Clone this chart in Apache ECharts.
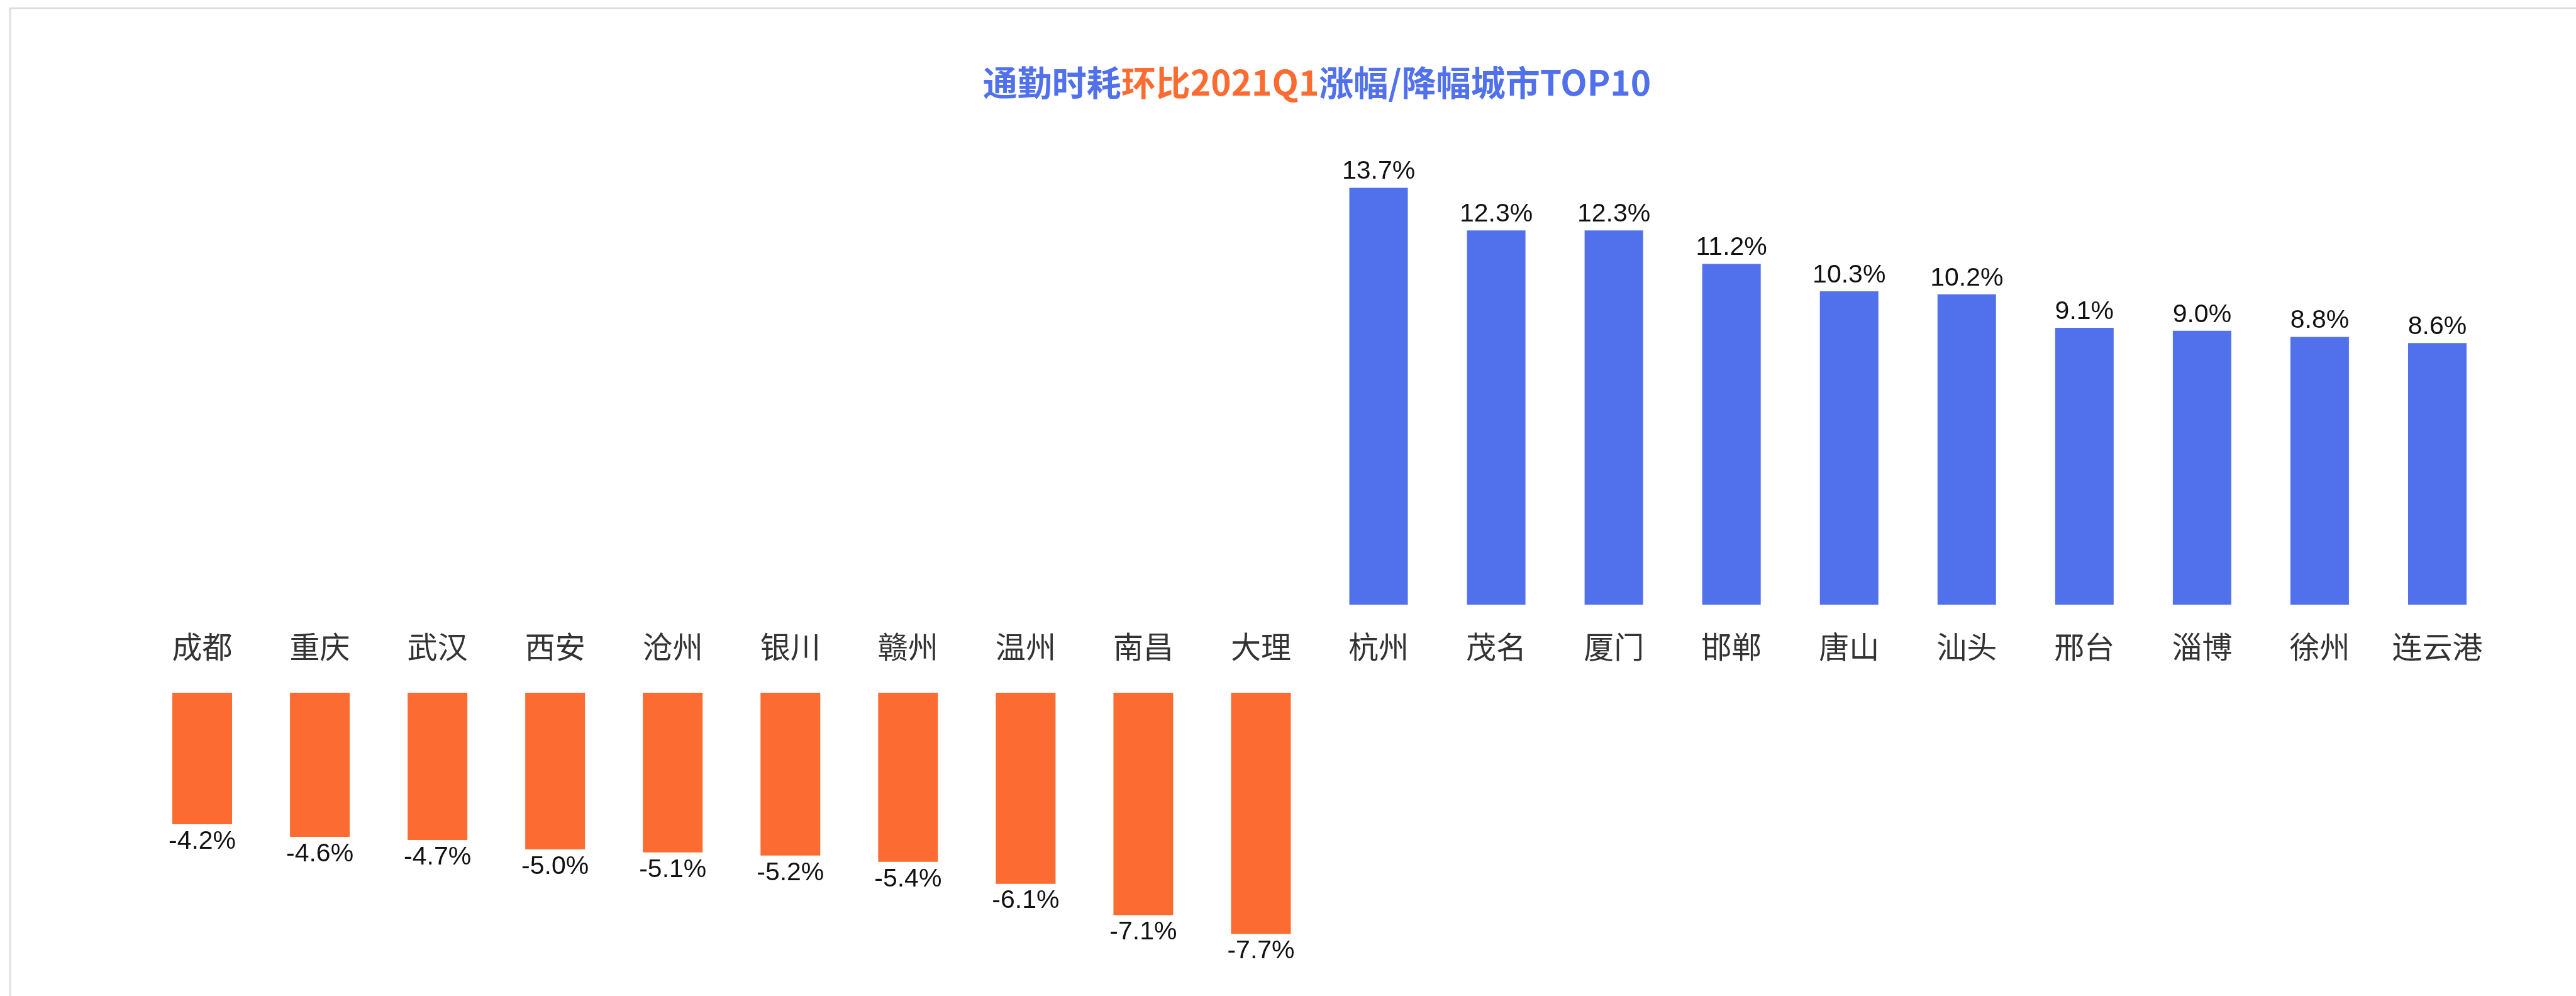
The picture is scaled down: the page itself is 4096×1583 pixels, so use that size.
<!DOCTYPE html>
<html>
<head>
<meta charset="utf-8">
<title>通勤时耗环比2021Q1涨幅/降幅城市TOP10</title>
<script src="https://cdn.jsdelivr.net/npm/echarts@6/dist/echarts.min.js"></script>
<style>
  html, body { margin: 0; padding: 0; background: #fff; }
  #main { width: 4096px; height: 1583px; }
</style>
</head>
<body>
<div id="main"></div>
<script>
// 降幅城市（左）与涨幅城市（右）
const downCities = ["成都", "重庆", "武汉", "西安", "沧州", "银川", "赣州", "温州", "南昌", "大理"];
const downValues = [-4.2, -4.6, -4.7, -5.0, -5.1, -5.2, -5.4, -6.1, -7.1, -7.7];
const upCities = ["杭州", "茂名", "厦门", "邯郸", "唐山", "汕头", "邢台", "淄博", "徐州", "连云港"];
const upValues = [13.7, 12.3, 12.3, 11.2, 10.3, 10.2, 9.1, 9.0, 8.8, 8.6];

const BLUE = "#5171ec";
const ORANGE = "#fc6c32";

const cities = downCities.concat(upCities);
const blank = downCities.map(() => "-");
const upData = blank.concat(upValues);
const downData = downValues.concat(upCities.map(() => "-"));

function pct(p) {
  return p.value.toFixed(1) + "%";
}

const valueLabel = {
  show: true,
  formatter: pct,
  color: "#111",
  fontSize: 41,
  fontFamily: "Liberation Sans, Arial, sans-serif"
};

const options = {
  backgroundColor: "#fff",
  animation: false,
  graphic: [
    {
      type: "rect",
      shape: { x: 16, y: 13, width: 5000, height: 3000 },
      style: { fill: "none", stroke: "#dcdcdc", lineWidth: 2.6 },
      silent: true
    },
    {
      type: "text",
      x: 2094,
      y: 131,
      style: {
        text: "{a|通勤时耗}{b|环比2021Q1}{a|涨幅/降幅城市TOP10}",
        align: "center",
        verticalAlign: "middle",
        rich: {
          a: { fill: BLUE, fontSize: 55, fontWeight: "bold", fontFamily: "Noto Sans CJK SC" },
          b: { fill: ORANGE, fontSize: 55, fontWeight: "bold", fontFamily: "Noto Sans CJK SC" }
        }
      }
    }
  ],
  grid: [
    { left: 228, width: 3741, top: 284, bottom: 622 },
    { left: 228, width: 3741, top: 1101, bottom: 34 }
  ],
  xAxis: [
    {
      type: "category",
      gridIndex: 0,
      data: cities,
      axisLine: { show: false },
      axisTick: { show: false },
      axisLabel: {
        margin: 43,
        interval: 0,
        color: "#333",
        fontSize: 48,
        fontFamily: "Noto Sans CJK SC"
      }
    },
    {
      type: "category",
      gridIndex: 1,
      position: "top",
      data: cities,
      axisLine: { show: false },
      axisTick: { show: false },
      axisLabel: { show: false }
    }
  ],
  yAxis: [
    { type: "value", gridIndex: 0, min: 0, max: 14, show: false, splitLine: { show: false } },
    { type: "value", gridIndex: 1, min: -9, max: 0, show: false, splitLine: { show: false } }
  ],
  series: [
    {
      name: "涨幅",
      type: "bar",
      xAxisIndex: 0,
      yAxisIndex: 0,
      barWidth: 93,
      itemStyle: { color: BLUE },
      label: Object.assign({ position: "top", distance: 5 }, valueLabel),
      data: upData
    },
    {
      name: "降幅",
      type: "bar",
      xAxisIndex: 1,
      yAxisIndex: 1,
      barWidth: 95,
      itemStyle: { color: ORANGE },
      label: Object.assign({ position: "bottom", distance: 7 }, valueLabel),
      data: downData
    }
  ]
};

var myChart = echarts.init(document.getElementById("main"));
myChart.setOption(options);
window.onresize = function() {
  myChart.resize();
};
</script>
</body>
</html>
